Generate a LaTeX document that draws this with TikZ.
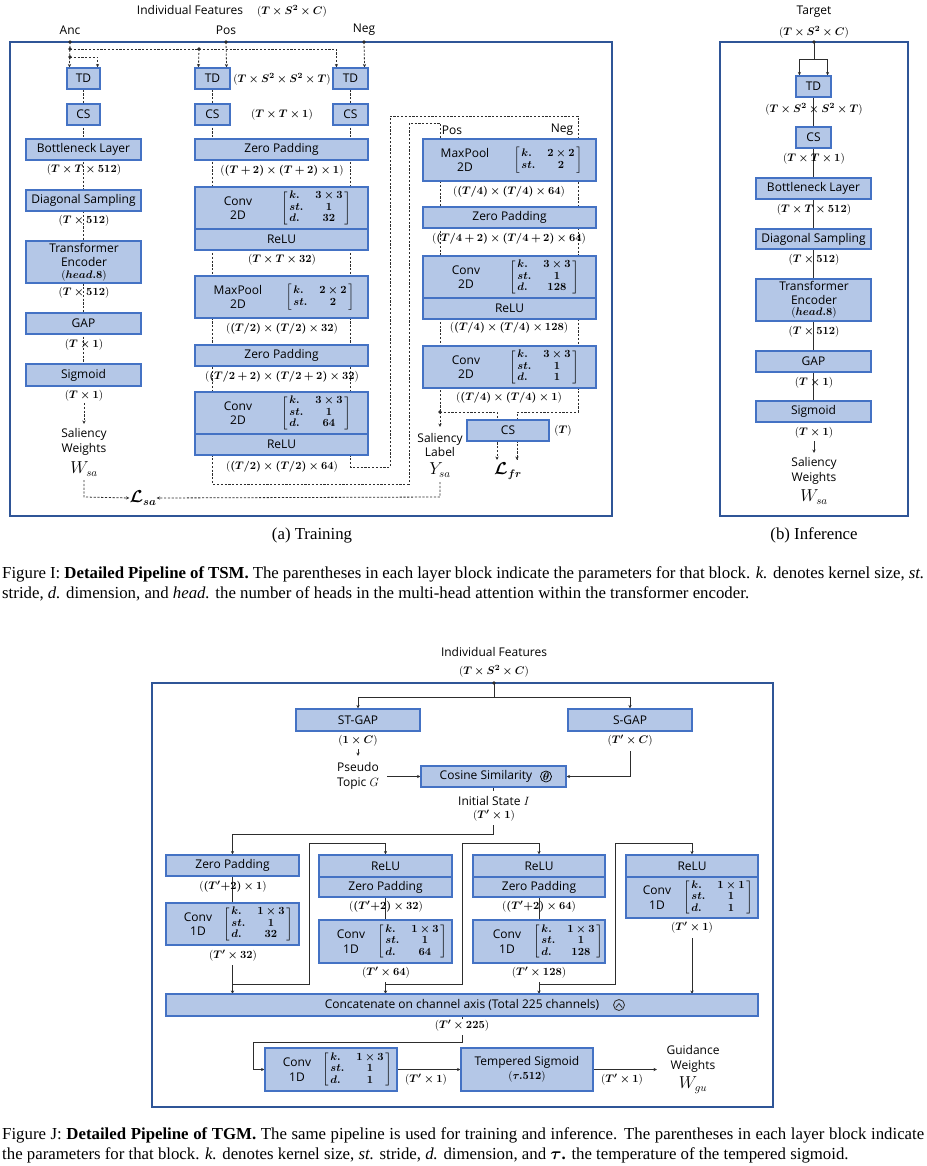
\documentclass[tikz,border=0pt]{standalone}
\usepackage{amsmath}
\usepackage{bm}
\usepackage[no-math]{fontspec}
\setmainfont{Liberation Serif}
\newfontfamily\osans{Open Sans}
\usetikzlibrary{arrows.meta}
\definecolor{fcol}{RGB}{180,199,231}
\definecolor{bcol}{RGB}{68,114,196}
\definecolor{frcol}{RGB}{47,85,151}
\definecolor{lcol}{RGB}{45,45,45}
\pgfdeclarelayer{bg}
\pgfsetlayers{bg,main}
\newcommand\bx[6]{\node[blk, minimum width={#4-#2}, minimum height={#5-#3}] (#1) at ({(#2+#4)/2},{(#3+#5)/2}) {#6};}
\newcommand\pl[1]{$(\bm{#1})$}
\newcommand\mtx[3]{$\left[\begin{array}{@{\,}l@{\hspace{12pt}}c@{\,}}\bm{k.}&\bm{#1}\\\bm{st.}&\bm{#2}\\\bm{d.}&\bm{#3}\end{array}\right]$}
\newcommand\mtxb[2]{$\left[\begin{array}{@{\,}l@{\hspace{12pt}}c@{\,}}\bm{k.}&\bm{#1}\\\bm{st.}&\bm{#2}\end{array}\right]$}
\begin{document}
\begin{tikzpicture}[x=1pt,y=-1pt,
  blk/.style={draw=bcol, fill=fcol, line width=1.1pt, inner sep=0pt, font=\osans\fontsize{12}{14.5}\selectfont, align=center},
  txt/.style={inner sep=0pt, font=\osans\fontsize{12}{14.5}\selectfont, align=center},
  lab/.style={inner sep=0pt, font=\fontsize{11}{12.5}\selectfont},
  mlab/.style={inner sep=0pt, font=\fontsize{11}{11.6}\selectfont},
  sml/.style={inner sep=0pt, font=\fontsize{10.5}{12}\selectfont},
  big/.style={inner sep=0pt, font=\fontsize{16}{18}\selectfont},
  dl/.style={draw=lcol, line width=0.8pt, dash pattern=on 2.2pt off 1.6pt},
  sl/.style={draw=lcol, line width=0.9pt},
  arr/.style={-{Stealth[length=3.5pt,width=3.2pt]}},
  frame/.style={draw=frcol, line width=1.2pt},
  dot/.style={circle, fill=lcol, inner sep=0pt, minimum size=3.6pt},
  captxt/.style={inner sep=0pt, anchor=base west, font=\fontsize{16.8}{20}\selectfont},
  capctr/.style={inner sep=0pt, anchor=base, font=\fontsize{16.8}{20}\selectfont}]
\useasboundingbox (0,0) rectangle (926,1166);

%================ (a) Training =================
\draw[frame] (10,42) rectangle (612,516);
\node[txt] at (190,10) {Individual Features};
\node[lab] at (292,11) {\pl{T\times S^2\times C}};
\node[txt] at (70,30) {Anc};
\node[txt] at (226,30) {Pos};
\node[txt] at (364,30) {Neg};

% Anc column
\bx{tdA}{67}{68}{100}{89}{TD}
\bx{csA}{67}{104}{100}{125}{CS}
\bx{bnA}{26}{139}{141}{160}{Bottleneck Layer}
\node[lab] at (84,170) {\pl{T\times T\times 512}};
\bx{dsA}{26}{190}{141}{211}{Diagonal Sampling}
\node[lab] at (84,221) {\pl{T\times 512}};
\bx{teA}{26}{241}{141}{283}{}
\node[txt] at (84,248) {Transformer};
\node[txt] at (84,262) {Encoder};
\node[sml] at (84,276) {\pl{head.8}};
\node[lab] at (84,293) {\pl{T\times 512}};
\bx{gapA}{26}{313}{141}{334}{GAP}
\node[lab] at (84,345) {\pl{T\times 1}};
\bx{sigA}{26}{364}{141}{386}{Sigmoid}
\node[lab] at (84,396) {\pl{T\times 1}};
\node[txt] (swA) at (84,442) {Saliency\\Weights};
\node[big] (wsA) at (84,469) {$W_{sa}$};
\node[big] (lsa) at (143,498) {$\bm{\mathcal{L}_{sa}}$};

% Pos / Neg columns
\bx{tdP}{195}{68}{230}{89}{TD}
\bx{tdN}{333}{68}{368}{89}{TD}
\node[lab] at (282,79) {\pl{T\times S^2\times S^2\times T}};
\bx{csP}{195}{104}{230}{125}{CS}
\bx{csN}{333}{104}{368}{125}{CS}
\node[lab] at (282,115) {\pl{T\times T\times 1}};
\bx{zpA}{195}{139}{368}{160}{Zero Padding}
\node[lab] at (282,171) {\pl{(T+2)\times(T+2)\times 1}};
\bx{cvA}{195}{187}{368}{229}{}
\node[txt] at (238,208) {Conv\\2D};
\node[mlab] at (316,208) {\mtx{3\times3}{1}{32}};
\bx{rlA}{195}{229}{368}{250}{ReLU}
\node[lab] at (282,260) {\pl{T\times T\times 32}};
\bx{mpA}{195}{276}{368}{318}{}
\node[txt] at (238,297) {MaxPool\\2D};
\node[mlab] at (320,297) {\mtxb{2\times2}{2}};
\node[lab] at (282,329) {\pl{(T/2)\times(T/2)\times 32}};
\bx{zpB}{195}{345}{368}{366}{Zero Padding}
\node[lab] at (282,377) {\pl{(T/2+2)\times(T/2+2)\times 32}};
\bx{cvB}{195}{392}{368}{434}{}
\node[txt] at (238,413) {Conv\\2D};
\node[mlab] at (316,413) {\mtx{3\times3}{1}{64}};
\bx{rlB}{195}{434}{368}{455}{ReLU}
\node[lab] at (282,467) {\pl{(T/2)\times(T/2)\times 64}};

% right column
\node[txt] at (452,130) {Pos};
\node[txt] at (562,130) {Neg};
\bx{mpC}{423}{139}{596}{181}{}
\node[txt] at (465,160) {MaxPool\\2D};
\node[mlab] at (548,160) {\mtxb{2\times2}{2}};
\node[lab] at (509,192) {\pl{(T/4)\times(T/4)\times 64}};
\bx{zpC}{423}{207}{596}{228}{Zero Padding}
\node[lab] at (509,239) {\pl{(T/4+2)\times(T/4+2)\times 64}};
\bx{cvC}{423}{256}{596}{298}{}
\node[txt] at (466,277) {Conv\\2D};
\node[mlab] at (544,277) {\mtx{3\times3}{1}{128}};
\bx{rlC}{423}{298}{596}{319}{ReLU}
\node[lab] at (509,328) {\pl{(T/4)\times(T/4)\times 128}};
\bx{cvD}{423}{346}{596}{388}{}
\node[txt] at (466,367) {Conv\\2D};
\node[mlab] at (544,367) {\mtx{3\times3}{1}{1}};
\node[lab] at (509,398) {\pl{(T/4)\times(T/4)\times 1}};
\bx{csF}{467}{420}{549}{441}{CS}
\node[lab] at (563,431) {\pl{T}};
\node[txt] (slY) at (440,445) {Saliency\\Label};
\node[big] (ysa) at (440,470) {$Y_{sa}$};
\node[big] (lfr) at (508,471) {$\bm{\mathcal{L}_{fr}}$};

% dots
\node[dot] (dA) at (70,42) {};
\node[dot] (dP) at (226,42) {};
\node[dot] (dN) at (364,42) {};
\node[dot] (jA1) at (70,49) {};
\node[dot] (jP) at (199,49) {};
\node[dot] (jA2) at (70,57) {};
\node[dot] (jY) at (440,412) {};

\begin{pgfonlayer}{bg}
\draw[dl,arr] (dA.center) -- ([xshift=3pt]tdA.north west);
\draw[dl,arr] (jA2.center) -| ([xshift=-3pt]tdA.north east);
\draw[dl,arr] (jA1.center) -| ([xshift=4pt]tdN.north west);
\draw[dl,arr] (jP.center) -- ([xshift=4pt]tdP.north west);
\draw[dl,arr] (dP.center) -- ([xshift=-4pt]tdP.north east);
\draw[dl,arr] (dN.center) -- ([xshift=-4pt]tdN.north east);
\draw[dl] (tdA.south) -- (sigA.north);
\draw[dl,arr] (84,403) -- (84,424);
\draw[dl,arr] (84,480) -- (84,497) -- (lsa.west);
% Pos loop
\draw[dl] (tdP.south) -- (212.5,484) -- (409,484) -- (409,123) -- (440,123) -- (jY.center);
% Neg loop
\draw[dl] (tdN.south) -- (350.5,467) -- (390,467) -- (390,116) -- (578,116) -- (578,412) -- (517,412) -- (517,460);
\draw[dl,arr] (517,440) -- (517,460);
\draw[dl,arr] (jY.center) -- (440,427);
\draw[dl,arr] (jY.center) -- (497,412) -- (497,460);
\draw[dl,arr] (440,482) -- (440,497) -- (lsa.east);
\end{pgfonlayer}

%================ (b) Inference =================
\draw[frame] (720,42) rectangle (908,516);
\node[txt] at (814,12) {Target};
\node[lab] at (814,32) {\pl{T\times S^2\times C}};
\bx{tdI}{796}{76}{831}{97}{TD}
\node[lab] at (814,109) {\pl{T\times S^2\times S^2\times T}};
\bx{csI}{796}{127}{831}{148}{CS}
\node[lab] at (814,159) {\pl{T\times T\times 1}};
\bx{bnI}{756}{178}{871}{199}{Bottleneck Layer}
\node[lab] at (814,210) {\pl{T\times T\times 512}};
\bx{dsI}{756}{229}{871}{249}{Diagonal Sampling}
\node[lab] at (814,260) {\pl{T\times 512}};
\bx{teI}{756}{279}{871}{321}{}
\node[txt] at (814,286) {Transformer};
\node[txt] at (814,300) {Encoder};
\node[sml] at (814,313) {\pl{head.8}};
\node[lab] at (814,332) {\pl{T\times 512}};
\bx{gapI}{756}{351}{871}{372}{GAP}
\node[lab] at (814,383) {\pl{T\times 1}};
\bx{sigI}{756}{401}{871}{422}{Sigmoid}
\node[lab] at (814,433) {\pl{T\times 1}};
\node[txt] (swI) at (814,471) {Saliency\\Weights};
\node[big] (wsI) at (814,497) {$W_{sa}$};
\node[dot] (dT) at (814,42) {};
\begin{pgfonlayer}{bg}
\draw[sl] (dT.center) -- (814,59);
\draw[sl,arr] (814,59) -| ([xshift=4pt]tdI.north west);
\draw[sl,arr] (814,59) -| ([xshift=-4pt]tdI.north east);
\draw[sl] (tdI.south) -- (sigI.north);
\draw[sl,arr] (814,441) -- (814,453);
\end{pgfonlayer}

\node[capctr] at (312,539) {(a) Training};
\node[capctr] at (814,539) {(b) Inference};
\node[captxt] at (2,578) {\makebox[922pt][s]{Figure I: \textbf{Detailed Pipeline of TSM.} The parentheses in each layer block indicate the parameters for that block. \textit{k.} denotes kernel size, \textit{st.}}};
\node[captxt] at (2,598) {stride, \textit{d.} dimension, and \textit{head.} the number of heads in the multi-head attention within the transformer encoder.};

%================ TGM =================
\draw[frame] (152,683) rectangle (773,1107);
\node[txt] at (494,652) {Individual Features};
\node[lab] at (494,671) {\pl{T\times S^2\times C}};
\node[dot] (dB) at (494,683) {};
\bx{stg}{296}{709}{420}{731}{ST-GAP}
\bx{sg}{568}{709}{692}{731}{S-GAP}
\node[lab] at (358,741) {\pl{1\times C}};
\node[lab] at (630,741) {\pl{T'\times C}};
\node[txt] (pt) at (358,776) {Pseudo\\Topic $G$};
\bx{cos}{421}{766}{566}{787}{}
\node[txt] at (486,776.5) {Cosine Similarity};
\node[draw=black, circle, inner sep=0.4pt, line width=0.7pt, font=\fontsize{10.5}{12}\selectfont] at (546,776.5) {$\bm{\theta}$};
\node[txt] at (494,801) {Initial State $I$};
\node[lab] at (494,816) {\pl{T'\times 1}};

\bx{zp1}{166}{855}{299}{876}{Zero Padding}
\node[lab] at (233,887) {\pl{(T'{+}2)\times 1}};
\bx{cv1}{166}{903}{299}{945}{}
\node[txt] at (198,924) {Conv\\1D};
\node[mlab] at (258,924) {\mtx{1\times3}{1}{32}};
\node[lab] at (233,956) {\pl{T'\times 32}};

\bx{rl2}{319}{855}{452}{877}{ReLU}
\bx{zp2}{319}{877}{452}{897}{Zero Padding}
\node[lab] at (386,907) {\pl{(T'{+}2)\times 32}};
\bx{cv2}{319}{920}{452}{963}{}
\node[txt] at (351,941.5) {Conv\\1D};
\node[mlab] at (412,941.5) {\mtx{1\times3}{1}{64}};
\node[lab] at (386,973) {\pl{T'\times 64}};

\bx{rl3}{473}{855}{605}{877}{ReLU}
\bx{zp3}{473}{877}{605}{897}{Zero Padding}
\node[lab] at (539,907) {\pl{(T'{+}2)\times 64}};
\bx{cv3}{473}{920}{605}{963}{}
\node[txt] at (507,941.5) {Conv\\1D};
\node[mlab] at (568,941.5) {\mtx{1\times3}{1}{128}};
\node[lab] at (539,973) {\pl{T'\times 128}};

\bx{rl4}{626}{855}{758}{877}{ReLU}
\bx{cv4}{626}{877}{758}{918}{}
\node[txt] at (657,897.5) {Conv\\1D};
\node[mlab] at (718,897.5) {\mtx{1\times1}{1}{1}};
\node[lab] at (692,928) {\pl{T'\times 1}};

\bx{cat}{166}{994}{758}{1016}{}
\node[txt] at (462,1005) {Concatenate on channel axis (Total 225 channels)};
\draw[lcol, line width=0.8pt] (619,1005) circle (5.5);
\draw[lcol, line width=0.8pt] (615.8,1007.5) -- (619,1003.5) -- (622.2,1007.5);
\node[lab] at (462,1026) {\pl{T'\times 225}};

\bx{cvF}{265}{1048}{397}{1091}{}
\node[txt] at (297,1069.5) {Conv\\1D};
\node[mlab] at (357,1069.5) {\mtx{1\times3}{1}{1}};
\node[lab] at (426,1080) {\pl{T'\times 1}};
\bx{ts}{461}{1048}{593}{1091}{}
\node[txt] at (527,1062) {Tempered Sigmoid};
\node[lab] at (527,1077) {\pl{\tau.512}};
\node[lab] at (622,1080) {\pl{T'\times 1}};
\node[txt] (gw) at (693,1059) {Guidance\\Weights};
\node[big] (wgu) at (693,1085) {$W_{gu}$};
\coordinate (gwin) at (657,1069.5);

\begin{pgfonlayer}{bg}
\draw[sl] (dB.center) -- (494,697);
\draw[sl,arr] (494,697) -| (stg.north);
\draw[sl,arr] (494,697) -| (sg.north);
\draw[sl,arr] (358,749) -- (358,756);
\draw[sl,arr] (387,776.5) -- (cos.west);
\draw[sl,arr] (630,751) |- (cos.east);
\draw[sl] (cos.south) -- (493.5,791);
\draw[sl,arr] (493.5,825) -- (493.5,834) -| (zp1.north);
\draw[sl] (zp1.south) -- (cv1.north);
\draw[sl,arr] (232.5,965) -- (232.5,994);
\draw[sl,arr] (232.5,984) -- (309,984) -- (309,843) -| (rl2.north);
\draw[sl] (zp2.south) -- (cv2.north);
\draw[sl,arr] (385.5,982) -- (385.5,994);
\draw[sl,arr] (385.5,984) -- (462,984) -- (462,843) -| (rl3.north);
\draw[sl] (zp3.south) -- (cv3.north);
\draw[sl,arr] (539,982) -- (539,994);
\draw[sl,arr] (539,984) -- (615,984) -- (615,843) -| (rl4.north);
\draw[sl,arr] (692,938) -- (692,994);
\draw[sl] (462,1016) -- (462,1019);
\draw[sl,arr] (462,1035) -- (462,1042) -- (253,1042) |- (cvF.west);
\draw[sl,arr] (cvF.east) -- (ts.west);
\draw[sl,arr] (ts.east) -- (gwin);
\end{pgfonlayer}

\node[captxt] at (2,1139) {\makebox[922pt][s]{Figure J: \textbf{Detailed Pipeline of TGM.} The same pipeline is used for training and inference. The parentheses in each layer block indicate}};
\node[captxt] at (2,1159) {the parameters for that block. \textit{k.} denotes kernel size, \textit{st.} stride, \textit{d.} dimension, and $\bm{\tau}$\textbf{.} the temperature of the tempered sigmoid.};
\end{tikzpicture}
\end{document}
